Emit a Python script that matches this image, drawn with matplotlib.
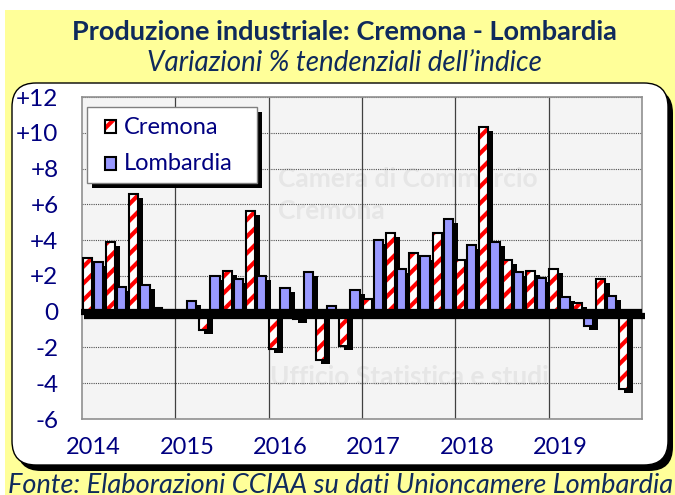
import matplotlib
matplotlib.use("Agg")
import matplotlib.pyplot as plt
from matplotlib.patches import Rectangle, FancyBboxPatch
from matplotlib.transforms import ScaledTranslation

# ======================================================
# Dati (variazioni % tendenziali, trimestrali 2014-2019)
# ======================================================
years = ["2014", "2015", "2016", "2017", "2018", "2019"]
cremona = [3.0, 3.9, 6.6, 0.2, 0.0, -1.0, 2.3, 5.6,
           -2.1, -0.4, -2.7, -1.9, 0.7, 4.4, 3.3, 4.4,
           2.9, 10.3, 2.9, 2.3, 2.4, 0.5, 1.8, -4.3]
lombardia = [2.8, 1.4, 1.5, 0.1, 0.6, 2.0, 1.8, 2.0,
             1.3, 2.2, 0.3, 1.2, 4.0, 2.4, 3.1, 5.2,
             3.7, 3.9, 2.2, 1.9, 0.8, -0.8, 0.9, -0.2]
yticks = [-6, -4, -2, 0, 2, 4, 6, 8, 10, 12]
ytick_labels = ["-6", "-4", "-2", "0", "+2", "+4", "+6", "+8", "+10", "+12"]

NAVY = "#000080"
TITLE_COL = "#0F2A5C"
YELLOW = "#FFFF99"
BLUE = "#9999FF"

plt.rcParams["font.family"] = ["Lato", "DejaVu Sans"]
plt.rcParams["hatch.linewidth"] = 3.0

W, H = 675, 495
fig = plt.figure(figsize=(W / 100, H / 100), dpi=100, facecolor=YELLOW)

# ------------------------------------------------------
# Sfondo in coordinate pixel (pannello, titoli, fonte)
# ------------------------------------------------------
bg = fig.add_axes([0, 0, 1, 1], zorder=0)
bg.set_xlim(0, W)
bg.set_ylim(H, 0)
bg.axis("off")
bg.add_patch(Rectangle((0, 0), W, 10, color="white", lw=0))
bg.add_patch(Rectangle((0, 0), 5, H, color="white", lw=0))
bg.add_patch(FancyBboxPatch((17, 89), 656, 382, boxstyle="round,pad=0,rounding_size=24",
                            fc="black", ec="black", lw=0))
bg.add_patch(FancyBboxPatch((12, 83), 656, 382, boxstyle="round,pad=0,rounding_size=24",
                            fc="white", ec="black", lw=1))
bg.text(344, 32, "Produzione industriale: Cremona - Lombardia", ha="center", va="center",
        fontsize=19.5, fontweight="bold", color=TITLE_COL)
bg.text(344, 63, "Variazioni % tendenziali dell\u2019indice", ha="center", va="center",
        fontsize=20, style="italic", color=TITLE_COL)
bg.text(8, 473, "Fonte: Elaborazioni CCIAA su dati Unioncamere Lombardia", ha="left", va="top",
        fontsize=19.5, style="italic", color=TITLE_COL)

# ------------------------------------------------------
# Grafico a barre
# ------------------------------------------------------
ax = fig.add_axes([82 / W, 1 - 419 / H, (642 - 82) / W, (419 - 97) / H], zorder=1)
ax.set_facecolor("#F4F4F4")
n = len(cremona)
x = list(range(n))
xc = [i - 0.28 for i in x]
xl = [i + 0.20 for i in x]
bw = 0.39

shadow = ax.transData + ScaledTranslation(5 / 100, -4 / 100, fig.dpi_scale_trans)
ax.bar(xc, cremona, bw, color="black", lw=0, transform=shadow, zorder=2)
ax.bar(xl, lombardia, bw, color="black", lw=0, transform=shadow, zorder=2)
ax.bar(xc, cremona, bw, color="white", edgecolor="red", hatch="//", lw=0, zorder=3)
ax.bar(xc, cremona, bw, fill=False, edgecolor="black", lw=1.5, zorder=4)
ax.bar(xl, lombardia, bw, color=BLUE, edgecolor="black", lw=1.5, zorder=4)

# linea dello zero spessa con ombra
zshadow = ax.transData + ScaledTranslation(3 / 100, -4 / 100, fig.dpi_scale_trans)
ax.plot([-0.55, n - 0.5], [0, 0], color="black", lw=4.5, transform=zshadow, zorder=5, clip_on=False,
        solid_capstyle="butt")
ax.plot([-0.55, n - 0.5], [0, 0], color="black", lw=4.5, zorder=5, clip_on=False,
        solid_capstyle="butt")

ax.set_xlim(-0.5, n - 0.5)
ax.set_ylim(-6, 12)
ax.set_yticks(yticks)
ax.set_yticklabels(ytick_labels)
ax.set_xticks(list(range(0, n, 4)))
ax.set_xticklabels(years)
ax.tick_params(axis="both", length=0, labelcolor=NAVY)
ax.tick_params(axis="y", pad=17, labelsize=17.5)
ax.tick_params(axis="x", pad=13, labelsize=17)
ax.yaxis.grid(True, linestyle=(0, (1, 1)), color="#505050", lw=0.8, zorder=1)
for b in range(4, n, 4):
    ax.axvline(b - 0.5, color="#404040", lw=0.9, zorder=1)
ax.set_axisbelow(True)
for s in ax.spines.values():
    s.set_color("#909090")
    s.set_linewidth(1.2)

# filigrana
wm = dict(color="#E6E6E6", fontsize=19, fontweight="bold", transform=ax.transAxes,
          zorder=0.5, va="center")
ax.text(0.35, 0.745, "Camera di Commercio", **wm)
ax.text(0.35, 0.645, "Cremona", **wm)
ax.text(0.335, 0.13, "Ufficio Statistica e studi", **wm)

# ------------------------------------------------------
# Legenda (coordinate pixel)
# ------------------------------------------------------
lg = fig.add_axes([0, 0, 1, 1], zorder=2)
lg.set_xlim(0, W)
lg.set_ylim(H, 0)
lg.axis("off")
lg.patch.set_alpha(0)
lg.add_patch(Rectangle((92, 112), 170, 76, fc="black", lw=0))
lg.add_patch(Rectangle((87, 107), 170, 76, fc="white", ec="#808080", lw=1))
lg.add_patch(Rectangle((105, 120), 11, 13, fc="white", ec="red", hatch="//", lw=0))
lg.add_patch(Rectangle((105, 120), 11, 13, fill=False, ec="black", lw=1.5))
lg.add_patch(Rectangle((105, 157), 11, 13, fc=BLUE, ec="black", lw=1.5))
lg.text(124, 127, "Cremona", va="center", ha="left", fontsize=17, color=NAVY)
lg.text(124, 164, "Lombardia", va="center", ha="left", fontsize=17, color=NAVY)

fig.savefig("out.png", dpi=100, facecolor=YELLOW)
